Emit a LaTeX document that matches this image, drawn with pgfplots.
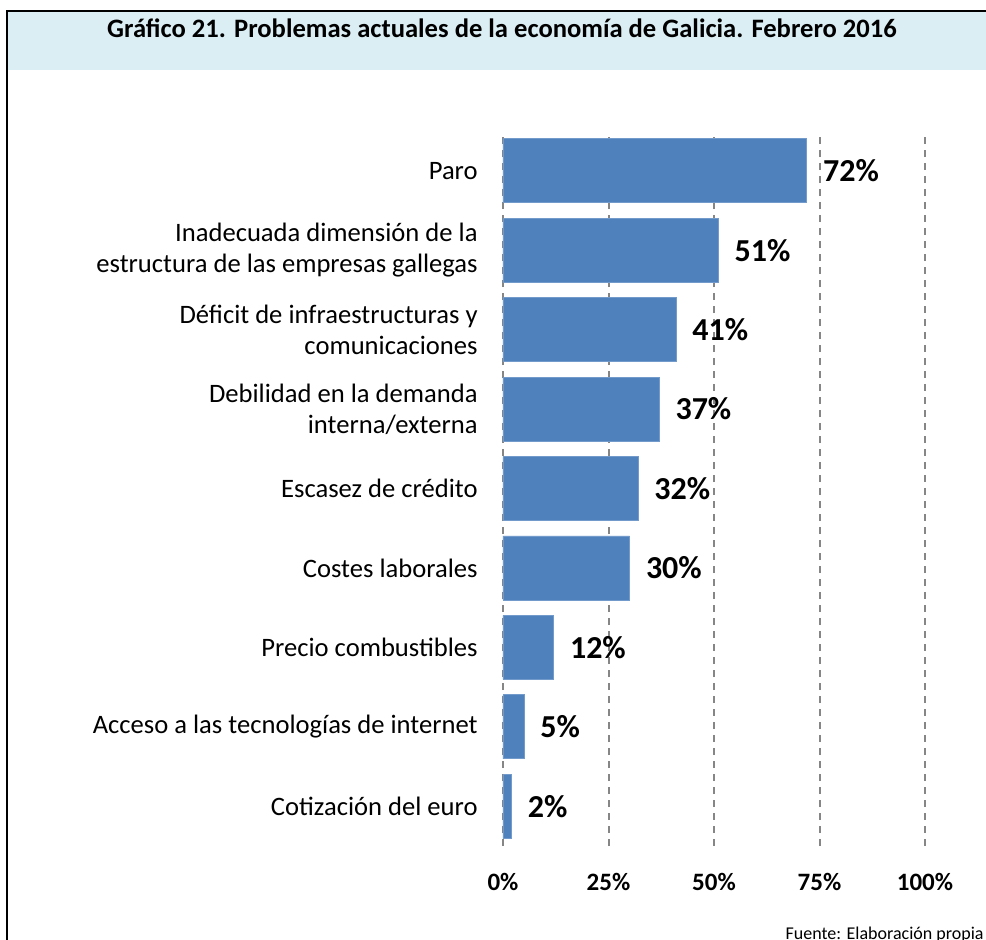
\documentclass[border=0pt]{standalone}
\usepackage{pgfplots}
\pgfplotsset{compat=1.18}
\usepackage{fontspec}
\setmainfont{Carlito}
\definecolor{barblue}{HTML}{4F81BD}
\definecolor{titlebg}{HTML}{DBEEF4}
\definecolor{gridgray}{HTML}{868686}
\begin{document}
\begin{tikzpicture}[x=0.5pt,y=-0.5pt]
\useasboundingbox (0,0) rectangle (986,939);
\fill[titlebg] (7,11) rectangle (995,70);
\draw[line width=1pt] (7,960) -- (7,11) -- (995,11);
\node[anchor=base,font=\fontsize{13.3}{16}\selectfont\bfseries] at (502,37) {Gráfico 21. Problemas actuales de la economía de Galicia. Febrero 2016};
\node[anchor=base east,font=\fontsize{9}{11}\selectfont,inner sep=0] at (984,939) {Fuente: Elaboración propia};
\coordinate (A) at (503,846);
\begin{axis}[
  at={(A)}, anchor=south west,
  scale only axis, width=211pt, height=357.5pt,
  xbar, bar width=32pt,
  xmin=0, xmax=100, ymin=-0.5, ymax=8.5,
  axis line style={draw=none},
  xtick={0,25,50,75,100},
  xticklabels={\textbf{0\%},\textbf{25\%},\textbf{50\%},\textbf{75\%},\textbf{100\%}},
  xticklabel style={font=\fontsize{12.5}{14}\selectfont, anchor=center, yshift=-18pt, inner sep=0},
  ytick={0,...,8},
  yticklabels={Cotización del euro, Acceso a las tecnologías de internet, Precio combustibles, Costes laborales, Escasez de crédito, {Debilidad en la demanda\\interna/externa}, {Déficit de infraestructuras y\\comunicaciones}, {Inadecuada dimensión de la\\estructura de las empresas gallegas}, Paro},
  yticklabel style={font=\fontsize{13.3}{15.5}\selectfont, align=right, anchor=east, inner sep=0, xshift=-12.5pt},
  major tick length=0pt,
  xmajorgrids, grid style={gridgray, line width=1pt, dash pattern=on 3.5pt off 3pt},
  /pgf/number format/assume math mode=true,
  nodes near coords={\pgfmathprintnumber{\pgfplotspointmeta}\%},
  nodes near coords style={font=\fontsize{16}{18}\selectfont\bfseries, anchor=west, inner sep=0, xshift=8pt},
]
\addplot[fill=barblue, draw=barblue!80!white] coordinates {
(2,0) (5,1) (12,2) (30,3) (32,4) (37,5) (41,6) (51,7) (72,8)};
\end{axis}
\end{tikzpicture}
\end{document}
